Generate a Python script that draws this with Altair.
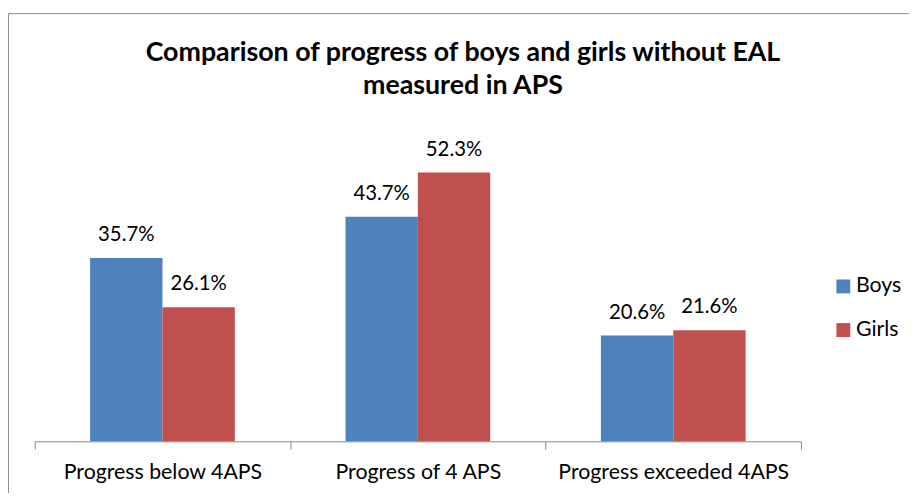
import altair as alt
import pandas as pd

categories = ["Progress below 4APS", "Progress of 4 APS", "Progress exceeded 4APS"]
series = ["Boys", "Girls"]
boys = [35.7, 43.7, 20.6]
girls = [26.1, 52.3, 21.6]
colors = ["#4F81BD", "#C0504D"]
title_lines = ["Comparison of progress of boys and girls without  EAL", "measured in APS"]

rows = []
for c, b, g in zip(categories, boys, girls):
    rows.append({"category": c, "series": "Boys", "value": b})
    rows.append({"category": c, "series": "Girls", "value": g})
df = pd.DataFrame(rows)
df["label"] = df["value"].map(lambda v: f"{v:.1f}%")
one = pd.DataFrame({"k": [0]})

FONT = "Lato"
W, H = 773, 311

x_enc = alt.X("category:N", sort=categories, title=None,
              scale=alt.Scale(paddingInner=0, paddingOuter=0),
              axis=alt.Axis(labelAngle=0, labelFontSize=21.5, labelFont=FONT, labelColor="#000000",
                            labelPadding=13, labelLimit=0, tickBand="extent", tickSize=8,
                            tickColor="#888888", domainColor="#888888", domainWidth=1,
                            tickWidth=1, grid=False))
xoff = alt.XOffset("series:N", sort=series, scale=alt.Scale(paddingInner=0, paddingOuter=0.765))
y_enc = alt.Y("value:Q", scale=alt.Scale(domain=[0, 60], nice=False), axis=None)

bars = alt.Chart(df).mark_bar().encode(
    x=x_enc, xOffset=xoff, y=y_enc,
    color=alt.Color("series:N", sort=series,
                    scale=alt.Scale(domain=series, range=colors),
                    legend=alt.Legend(title=None, orient="none", legendX=805, legendY=144,
                                      symbolType="square", symbolSize=196, symbolStrokeWidth=0,
                                      labelFontSize=21.5, labelFont=FONT, labelColor="#000000",
                                      rowPadding=21, padding=0, labelOffset=2, labelLimit=0)),
)

labels = alt.Chart(df).mark_text(fontSize=20.5, font=FONT, color="#000000", dy=-17,
                                 baseline="alphabetic").encode(
    x=alt.X("category:N", sort=categories), xOffset=alt.XOffset("series:N", sort=series),
    y="value:Q", text="label:N",
)

top_line = alt.Chart(one).mark_rule(color="#8c8c8c", strokeWidth=1).encode(
    x=alt.value(-26.5), x2=alt.value(900), y=alt.value(-120.5))
left_line = alt.Chart(one).mark_rule(color="#8c8c8c", strokeWidth=1).encode(
    x=alt.value(-26.5), y=alt.value(-120.5), y2=alt.value(400))

t1 = alt.Chart(one).mark_text(fontSize=27, font=FONT, fontWeight="bold", color="#000000",
                              align="center", baseline="alphabetic").encode(
    x=alt.value(432), y=alt.value(-73), text=alt.value(title_lines[0]))
t2 = alt.Chart(one).mark_text(fontSize=27, font=FONT, fontWeight="bold", color="#000000",
                              align="center", baseline="alphabetic").encode(
    x=alt.value(432), y=alt.value(-39.5), text=alt.value(title_lines[1]))

chart = alt.layer(top_line, left_line, bars, labels, t1, t2).properties(
    width=W, height=H,
    background="white",
    autosize=alt.AutoSizeParams(type="none"),
    padding={"left": 27, "top": 124, "right": 109, "bottom": 50},
).configure_view(stroke="transparent", strokeWidth=0)

chart.save("out.html", embed_options={"renderer": "svg", "actions": False})
